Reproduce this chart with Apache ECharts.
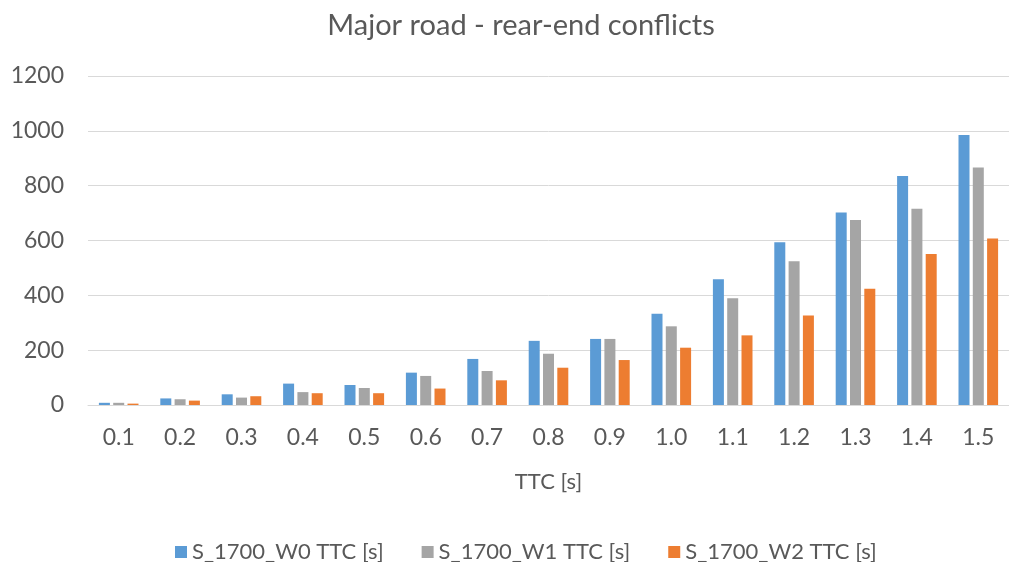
<!DOCTYPE html>
<html>
<head>
<meta charset="utf-8">
<script src="https://cdn.jsdelivr.net/npm/echarts@6/dist/echarts.min.js"></script>
<style>
html, body { margin: 0; padding: 0; background: #fff; }
#chart { width: 1009px; height: 562px; }
</style>
</head>
<body>
<div id="chart"></div>
<script>
// TTC thresholds
const categories = ['0.1', '0.2', '0.3', '0.4', '0.5', '0.6', '0.7', '0.8', '0.9', '1.0', '1.1', '1.2', '1.3', '1.4', '1.5'];
const w0 = [8, 24, 39, 78, 73, 118, 168, 234, 241, 333, 459, 594, 702, 835, 985];
const w1 = [8, 21, 27, 47, 62, 106, 124, 187, 241, 287, 389, 524, 675, 716, 866];
const w2 = [5, 16, 32, 43, 43, 60, 90, 136, 164, 209, 254, 326, 424, 551, 607];
const seriesNames = ['S_1700_W0 TTC [s]', 'S_1700_W1 TTC [s]', 'S_1700_W2 TTC [s]'];
const colors = ['#5b9bd5', '#a5a5a5', '#ed7d31'];

const font = 'Lato, "Open Sans", sans-serif';
let myChart = echarts.init(document.getElementById('chart'));

function bar(name, data, color) {
    return {
        name: name,
        type: 'bar',
        barWidth: 11,
        barGap: '30%',
        itemStyle: { color: color },
        data: data
    };
}

let option = {
    animation: false,
    color: colors,
    title: {
        text: 'Major road - rear-end conflicts',
        left: 516,
        top: 6,
        textAlign: 'center',
        textStyle: { color: '#595959', fontSize: 29, fontWeight: 'normal', fontFamily: font }
    },
    grid: { left: 88, right: 0, top: 76, bottom: 157 },
    legend: {
        data: seriesNames,
        top: 536,
        left: 170,
        itemWidth: 12,
        itemHeight: 12,
        itemGap: 38,
        icon: 'rect',
        textStyle: { color: '#595959', fontSize: 22, fontFamily: font }
    },
    xAxis: {
        type: 'category',
        data: categories,
        name: 'TTC [s]',
        nameLocation: 'middle',
        nameGap: 66,
        nameTextStyle: { color: '#595959', fontSize: 22, fontFamily: font },
        axisLine: { lineStyle: { color: '#d9d9d9' } },
        axisTick: { show: false },
        axisLabel: { color: '#595959', fontSize: 23, fontFamily: font, margin: 21 }
    },
    yAxis: {
        type: 'value',
        min: 0,
        max: 1200,
        interval: 200,
        axisLine: { show: false },
        axisTick: { show: false },
        axisLabel: {
            color: '#595959', fontSize: 23, fontFamily: font, margin: 24,
            formatter: function (v) { return String(v); }
        },
        splitLine: { lineStyle: { color: '#d9d9d9' } }
    },
    series: [
        bar(seriesNames[0], w0, colors[0]),
        bar(seriesNames[1], w1, colors[1]),
        bar(seriesNames[2], w2, colors[2])
    ]
};
myChart.setOption(option);
</script>
</body>
</html>
